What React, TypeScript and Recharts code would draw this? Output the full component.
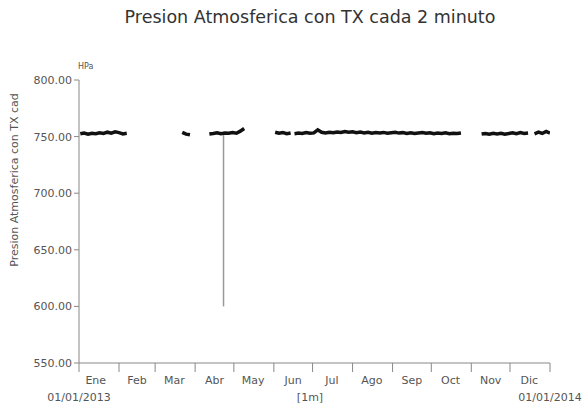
import { Line, LineChart, XAxis, YAxis } from "recharts";

// day-of-year sampling step used for every run of readings
const STEP = 3;

// runs of readings (hPa), each starting on the given day of 2013
const runJan = [752.5, 753.2, 752.1, 753.0, 752.6, 753.4, 752.8, 753.9, 753.1, 754.2, 753.5, 752.4, 752.9];
const runMar = [753.8, 752.2, 751.6];
const runApr = [752.3, 752.8, 753.4, 752.6, 753.1, 752.9, 753.6, 753.0, 754.8, 757.2];
const runJun = [753.8, 752.9, 753.5, 752.6, 753.2];
const runSummer = [
  752.6, 753.1, 752.8, 753.5, 752.9, 753.3, 756.0, 753.8, 753.2, 753.9, 753.4, 754.1, 753.6, 754.5, 753.9,
  754.2, 753.5, 754.0, 753.3, 753.8, 753.0, 753.6, 753.1, 753.7, 752.9, 753.4, 753.8, 753.1, 753.5, 752.8,
  753.3, 752.7, 753.2, 753.6, 752.9, 753.4, 752.6, 753.1, 752.8, 753.3, 752.5, 753.0, 752.7, 753.2
];
const runNov = [752.3, 752.8, 752.1, 752.9, 752.4, 753.0, 752.2, 752.7, 753.4, 752.6, 753.5, 752.8, 753.2];
const runDec = [752.5, 753.9, 752.8, 754.6, 753.1];
const runStarts = [1, 80, 101, 152, 167, 312, 353];

// single bad reading on 22 Apr
const spike = [
  { day: 112, p: 753 },
  { day: 112, p: 600 }
];

const monthStarts = [0, 31, 59, 90, 120, 151, 181, 212, 243, 273, 304, 334, 365];
const monthMids = [13, 45, 74, 105, 135, 166, 196, 227, 258, 288, 319, 349];
const monthNames = ["Ene", "Feb", "Mar", "Abr", "May", "Jun", "Jul", "Ago", "Sep", "Oct", "Nov", "Dic"];
const yTicks = [550, 600, 650, 700, 750, 800];

const runs = [runJan, runMar, runApr, runJun, runSummer, runNov, runDec];
const data: Array<{ day: number; p: number | null }> = [];
runs.forEach((vals, r) => {
  vals.forEach((v, i) => data.push({ day: runStarts[r] + i * STEP, p: v }));
  data.push({ day: runStarts[r] + vals.length * STEP - 1, p: null });
});

const font = "'DejaVu Sans', Verdana, sans-serif";
const grey = "#555";

export default function App() {
  return (
    <div style={{ position: "absolute", left: 0, top: 0, width: 582, height: 408, fontFamily: font, background: "#fff" }}>
      <LineChart width={582} height={408} data={data} margin={{ top: 80, right: 32, left: 0, bottom: 0 }}>
        <XAxis
          xAxisId="a"
          type="number"
          dataKey="day"
          domain={[0, 365]}
          ticks={monthStarts}
          interval={0}
          tickFormatter={() => ""}
          height={10}
          tickSize={9}
          stroke="#888"
          allowDataOverflow
        />
        <XAxis
          xAxisId="b"
          type="number"
          dataKey="day"
          domain={[0, 365]}
          ticks={monthMids}
          interval={0}
          tickFormatter={(v: number) => monthNames[monthMids.indexOf(v)]}
          height={35}
          tickSize={0}
          tickMargin={3}
          axisLine={false}
          tickLine={false}
          tick={{ fontSize: 11, fill: grey, fontFamily: font }}
          allowDataOverflow
        />
        <YAxis
          type="number"
          domain={[550, 800]}
          ticks={yTicks}
          interval={0}
          width={79}
          tickSize={5}
          tickMargin={2}
          stroke="#888"
          tickFormatter={(v: number) => v.toFixed(2)}
          tick={{ fontSize: 11, fill: grey, fontFamily: font }}
        />
        <Line
          xAxisId="a"
          data={spike}
          dataKey="p"
          stroke="#999"
          strokeWidth={1.5}
          dot={false}
          isAnimationActive={false}
        />
        <Line
          xAxisId="a"
          dataKey="p"
          type="linear"
          stroke="#111"
          strokeWidth={3.5}
          dot={false}
          connectNulls={false}
          isAnimationActive={false}
        />
      </LineChart>
      <div style={{ position: "absolute", left: 310, top: 7, transform: "translateX(-50%)", whiteSpace: "nowrap", fontSize: 17.5, color: "#333" }}>
        Presion Atmosferica con TX cada 2 minuto
      </div>
      <div style={{ position: "absolute", left: 78, top: 62, fontSize: 8, color: grey }}>HPa</div>
      <div
        style={{
          position: "absolute",
          left: 14,
          top: 180,
          transform: "translate(-50%, -50%) rotate(-90deg)",
          whiteSpace: "nowrap",
          fontSize: 11,
          color: grey
        }}
      >
        Presion Atmosferica con TX cad
      </div>
      <div style={{ position: "absolute", left: 79, top: 391, transform: "translateX(-50%)", fontSize: 11, color: grey }}>01/01/2013</div>
      <div style={{ position: "absolute", left: 310, top: 391, transform: "translateX(-50%)", fontSize: 11, color: grey }}>[1m]</div>
      <div style={{ position: "absolute", left: 550, top: 391, transform: "translateX(-50%)", fontSize: 11, color: grey }}>01/01/2014</div>
    </div>
  );
}
